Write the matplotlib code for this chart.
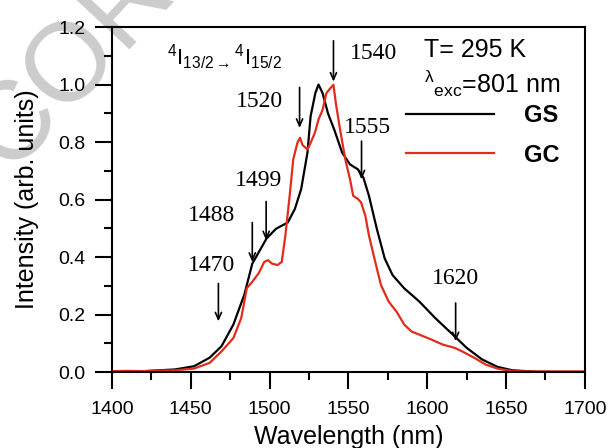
# emission spectra GS vs GC, Er3+ 4I13/2 -> 4I15/2
import matplotlib
matplotlib.use("Agg")
import matplotlib.pyplot as plt
import numpy as np

# GS (black) curve
gs_wl = [1400, 1420, 1440, 1452, 1462, 1469.5, 1477, 1484, 1489, 1498, 1504, 1511.5,
         1516, 1520, 1524, 1526, 1529, 1531, 1533.6, 1537, 1541, 1546, 1551, 1556,
         1559.5, 1563, 1568, 1573, 1578, 1585.4, 1595, 1605, 1617.4, 1625, 1634.7,
         1644.5, 1654, 1669, 1685, 1700]
gs_int = [0.0, 0.003, 0.009, 0.02, 0.05, 0.09, 0.165, 0.27, 0.377, 0.464, 0.498, 0.52,
          0.567, 0.636, 0.763, 0.89, 0.97, 1.0, 0.97, 0.90, 0.843, 0.763, 0.722, 0.705,
          0.676, 0.613, 0.498, 0.395, 0.337, 0.291, 0.245, 0.188, 0.124, 0.084, 0.044,
          0.018, 0.006, 0.001, 0.0, 0.0]

# GC (red) curve
gc_wl = [1400, 1410, 1420, 1430, 1440, 1452, 1462, 1469.5, 1477, 1482, 1485.5, 1489,
         1493, 1496.6, 1499, 1501.5, 1505, 1507.7, 1510, 1512.7, 1515, 1517.6, 1519.3,
         1520.8, 1524, 1526, 1528.7, 1531, 1533.6, 1536, 1538.5, 1540.5, 1542, 1544.7,
         1548, 1551, 1553, 1556, 1558, 1560.7, 1563, 1567, 1570.6, 1575.5, 1580.5,
         1585.4, 1590, 1597.7, 1602.6, 1610, 1617.4, 1622, 1630, 1637, 1644.5, 1654,
         1665, 1680, 1700]
gc_int = [0.003, 0.004, 0.003, 0.005, 0.006, 0.012, 0.032, 0.072, 0.118, 0.188, 0.291,
          0.314, 0.343, 0.383, 0.389, 0.377, 0.372, 0.383, 0.475, 0.613, 0.74, 0.797,
          0.815, 0.79, 0.774, 0.797, 0.832, 0.878, 0.912, 0.97, 0.987, 0.999, 0.935,
          0.843, 0.74, 0.67, 0.613, 0.602, 0.59, 0.544, 0.475, 0.383, 0.303, 0.245,
          0.21, 0.165, 0.141, 0.124, 0.113, 0.095, 0.084, 0.072, 0.049, 0.026, 0.012,
          0.003, 0.002, 0.002, 0.002]

# marked peaks: label, arrow tip height, label position
peaks = ["1470", "1488", "1499", "1520", "1540", "1555", "1620"]
peak_x = [1467.5, 1489, 1497.8, 1519, 1540.5, 1558.3, 1618]
tip_y = [0.176, 0.383, 0.458, 0.849, 1.01, 0.67, 0.107]
tail_y = [0.308, 0.52, 0.593, 0.99, 1.152, 0.803, 0.24]
label_x = [1462.9, 1462.9, 1493, 1493.7, 1566, 1562, 1618]
label_y = [0.37, 0.544, 0.665, 0.94, 1.108, 0.849, 0.326]


def main():
    plt.rcParams['font.family'] = ['Liberation Sans', 'DejaVu Sans']
    plt.rcParams['mathtext.fontset'] = 'custom'
    plt.rcParams['mathtext.rm'] = 'Liberation Sans'
    plt.rcParams['mathtext.it'] = 'Liberation Sans:italic'
    plt.rcParams['mathtext.bf'] = 'Liberation Sans:bold'

    fig = plt.figure(figsize=(6.08, 4.48), dpi=100)
    ax = fig.add_axes([0.1842, 0.1696, 0.7778, 0.7701])
    ax.set_zorder(1)
    ax.patch.set_alpha(0)

    # faint watermark behind the chart
    fig.text(0.0148, 0.6127, "CORRECTED", rotation=47, rotation_mode='anchor',
             fontsize=80, color='#cccccc', ha='left', va='baseline', zorder=0)

    ax.plot(gs_wl, gs_int, color='black', lw=1.6, label='GS')
    ax.plot(gc_wl, gc_int, color='#e32b1c', lw=1.6, label='GC')

    for i in range(len(peaks)):
        ax.annotate("", xy=(peak_x[i], tip_y[i]), xytext=(peak_x[i], tail_y[i]),
                    arrowprops=dict(arrowstyle='->,head_length=0.5,head_width=0.22',
                                    color='black', lw=1.2, shrinkA=0, shrinkB=0))
        ax.text(label_x[i], label_y[i], peaks[i], family='Liberation Serif',
                fontsize=17, ha='center', va='center')

    ax.text(1435, 1.096, r"$^{4}\mathrm{I}_{13/2\rightarrow}{}^{4}\mathrm{I}_{15/2}$",
            fontsize=16, ha='left', va='center')
    ax.text(1597.7, 1.12, "T= 295 K", fontsize=18, ha='left', va='center')
    ax.text(1597.7, 1.004, r"$^{\mathrm{λ}}{}_{\mathrm{exc}}$=801 nm", fontsize=18,
            ha='left', va='center')

    leg = ax.legend(loc='center left', bbox_to_anchor=(0.622, 0.686), frameon=False,
                    handlelength=3.7, handletextpad=1.3, labelspacing=0.7,
                    borderpad=0, borderaxespad=0,
                    prop={'weight': 'bold', 'size': 17})
    for line in leg.get_lines():
        line.set_linewidth(1.6)

    ax.set_xlim(1400, 1700)
    ax.set_ylim(0, 1.2)
    ax.set_xticks(np.arange(1400, 1701, 50))
    ax.set_xticks(np.arange(1400, 1701, 25), minor=True)
    ax.set_yticks(np.arange(0, 1.21, 0.2))
    ax.set_yticks(np.arange(0, 1.21, 0.1), minor=True)
    ax.set_yticklabels(["%.1f" % v for v in np.arange(0, 1.21, 0.2)])

    ax.tick_params(which='both', direction='out', width=1.5, labelsize=14)
    ax.tick_params(which='major', length=12)
    ax.tick_params(which='minor', length=6)
    ax.tick_params(axis='x', pad=9)
    ax.tick_params(axis='y', pad=7)
    for s in ax.spines.values():
        s.set_linewidth(1.5)

    ax.set_xlabel("Wavelength (nm)", fontsize=18, labelpad=5)
    ax.set_ylabel("Intensity (arb. units)", fontsize=18, labelpad=14)

    fig.savefig("out.png", dpi=100)


if __name__ == "__main__":
    main()
